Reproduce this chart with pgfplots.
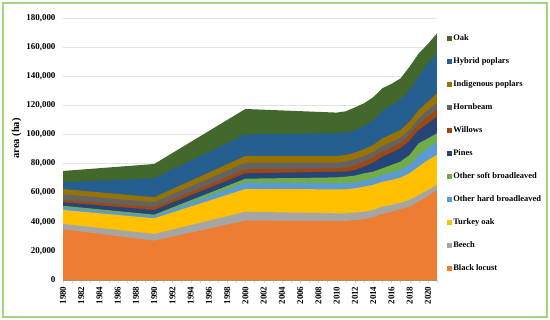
\documentclass[border=0pt]{standalone}
\usepackage{fontspec}
\setmainfont{Liberation Serif}
\usepackage{pgfplots}
\usepackage{pgfplotstable}
\pgfplotsset{compat=1.18}
\definecolor{cBL}{HTML}{ED7D31}
\definecolor{cBE}{HTML}{A5A5A5}
\definecolor{cTO}{HTML}{FFC000}
\definecolor{cOH}{HTML}{5B9BD5}
\definecolor{cOS}{HTML}{70AD47}
\definecolor{cPI}{HTML}{264478}
\definecolor{cWI}{HTML}{9E480E}
\definecolor{cHB}{HTML}{636363}
\definecolor{cIP}{HTML}{997300}
\definecolor{cHP}{HTML}{255E91}
\definecolor{cOK}{HTML}{43682B}
\definecolor{frame}{RGB}{165,212,130}
% cumulative tops of the stacked areas
\pgfplotstableread{
year bl be tu oh os pi wi hb ip hp oak
1980 34800 38500 48100 50000 51000 53400 55000 58900 62500 67100 74900
1990 27000 31600 42400 44000 44900 48100 50000 53400 56800 69900 79700
2000 40800 46900 62500 66900 69600 73300 76000 80600 85200 100100 117500
2010 40500 45800 62300 66400 70500 74400 76700 80600 85200 100800 115000
2011 40500 45800 62300 66400 71000 74400 77200 81300 85900 101200 115900
2012 41200 46300 63000 66900 71700 75600 78800 82900 87500 103000 118600
2013 41700 46900 64100 68200 73300 77900 81300 85200 89800 105800 121400
2014 43100 48100 65300 69600 74400 80600 84300 87900 92700 109400 125500
2015 45300 50400 67500 72100 76700 84700 88200 92100 97300 116300 131700
2016 46900 51500 68700 73700 79000 87500 90900 94800 100100 120200 134700
2017 48600 53100 70300 75600 81300 90500 94300 97800 103000 123700 138500
2018 50400 55000 73300 79000 85900 95700 99600 103000 108800 130500 146600
2019 53800 58400 77900 85900 93900 103000 107200 111100 116800 139700 155700
2020 57700 61800 82400 90500 97300 107600 112200 116800 122500 148900 162100
2021 61800 65300 85900 95000 100800 112200 117300 121400 128300 155700 169500
}\data
\begin{document}
\begin{tikzpicture}
\begin{axis}[
  at={(0,0)}, anchor=south west,
  scale only axis, width=374bp, height=262bp,
  xmin=1980, xmax=2021, ymin=0, ymax=180000,
  xtick={1980,1982,...,2020},
  minor xtick={1980,1981,...,2021},
  ytick={0,20000,...,180000},
  scaled x ticks=false, scaled y ticks=false,
  /pgf/number format/assume math mode=true,
  /pgf/number format/fixed,
  /pgf/number format/precision=0,
  xticklabel style={rotate=90, anchor=east, font=\bfseries\fontsize{9}{10}\selectfont,
    /pgf/number format/1000 sep={}},
  yticklabel style={font=\bfseries\fontsize{9}{10}\selectfont, xshift=-4bp,
    /pgf/number format/1000 sep={,}},
  ymajorgrids, major grid style={draw=gray!22, line width=0.6pt},
  axis x line*=bottom, axis y line*=left,
  x axis line style={draw=gray!35, -},
  y axis line style={draw=none},
  xtick style={draw=gray!35}, ytick style={draw=none},
  major tick length=3bp, minor tick length=3bp,
  xtick align=outside,
  ylabel={area (ha)},
  ylabel style={font=\bfseries\fontsize{10.5}{12}\selectfont, at={(axis description cs:-0.124,0.54)}, anchor=center},
  legend cell align=left,
  legend style={at={(axis description cs:1.027,0.94)}, anchor=north west, draw=none, fill=none,
    inner sep=0pt, row sep=13.3bp,
    font=\bfseries\fontsize{8.5}{10}\selectfont,
    nodes={inner sep=1pt, text height=6bp, text depth=1.7bp}},
  legend image code/.code={\fill[#1] (0bp,-2.5bp) rectangle (5bp,2.5bp);},
]
\addplot[fill=cOK, draw=none] table[x=year, y=oak] {\data} \closedcycle;
\addlegendentry{Oak}
\addplot[fill=cHP, draw=none] table[x=year, y=hp] {\data} \closedcycle;
\addlegendentry{Hybrid poplars}
\addplot[fill=cIP, draw=none] table[x=year, y=ip] {\data} \closedcycle;
\addlegendentry{Indigenous poplars}
\addplot[fill=cHB, draw=none] table[x=year, y=hb] {\data} \closedcycle;
\addlegendentry{Hornbeam}
\addplot[fill=cWI, draw=none] table[x=year, y=wi] {\data} \closedcycle;
\addlegendentry{Willows}
\addplot[fill=cPI, draw=none] table[x=year, y=pi] {\data} \closedcycle;
\addlegendentry{Pines}
\addplot[fill=cOS, draw=none] table[x=year, y=os] {\data} \closedcycle;
\addlegendentry{Other soft broadleaved}
\addplot[fill=cOH, draw=none] table[x=year, y=oh] {\data} \closedcycle;
\addlegendentry{Other hard broadleaved}
\addplot[fill=cTO, draw=none] table[x=year, y=tu] {\data} \closedcycle;
\addlegendentry{Turkey oak}
\addplot[fill=cBE, draw=none] table[x=year, y=be] {\data} \closedcycle;
\addlegendentry{Beech}
\addplot[fill=cBL, draw=none] table[x=year, y=bl] {\data} \closedcycle;
\addlegendentry{Black locust}
\end{axis}
\draw[frame, line width=1.5bp] (-60bp,-37bp) rectangle (484bp,277bp);
\path[use as bounding box] (-63bp,-40bp) rectangle (487bp,280bp);
\end{tikzpicture}
\end{document}
